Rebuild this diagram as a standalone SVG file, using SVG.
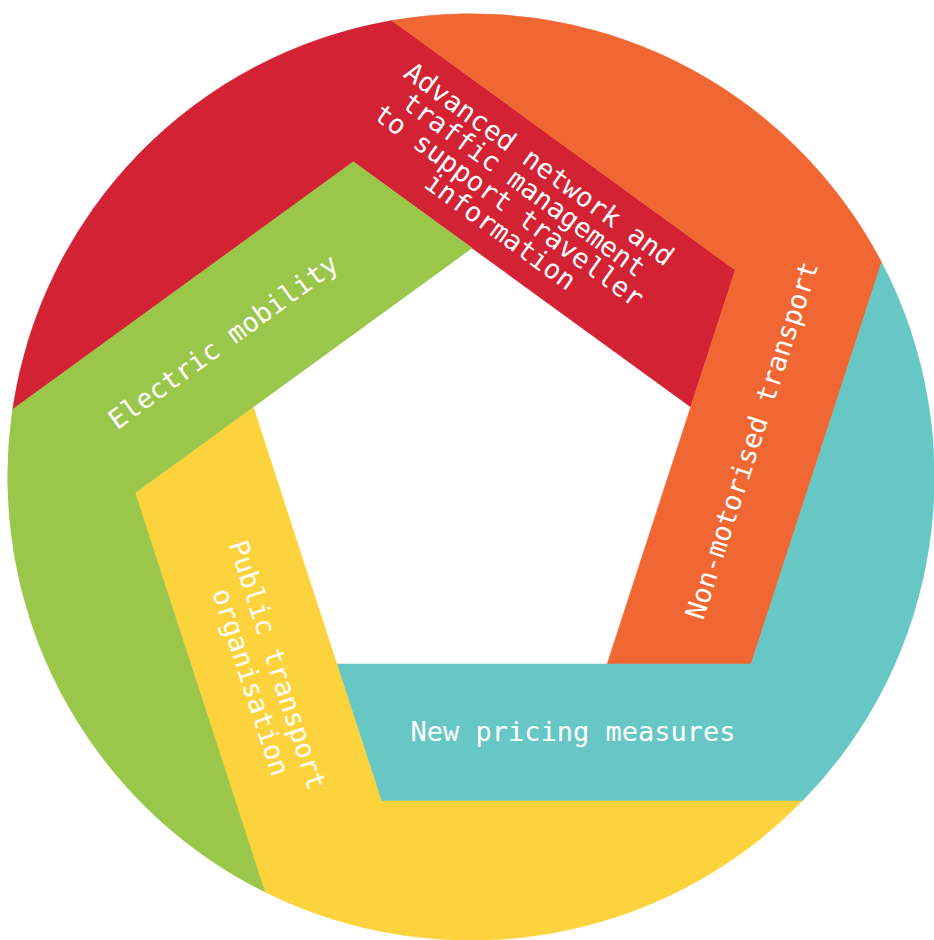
<svg xmlns="http://www.w3.org/2000/svg" width="934" height="940" viewBox="0 0 934 940">
  <style>
    .seg { stroke-width: 0.6; stroke-linejoin: miter; }
    .red { fill: #D32234; stroke: #D32234; }
    .orange { fill: #F16733; stroke: #F16733; }
    .teal { fill: #67C7C5; stroke: #67C7C5; }
    .yellow { fill: #FDD33D; stroke: #FDD33D; }
    .green { fill: #9AC64A; stroke: #9AC64A; }
    .label { font-family: "DejaVu Sans Mono", "Liberation Mono", monospace; font-size: 27px; fill: #FFFFFF; text-anchor: middle; }
  </style>
  <rect width="934" height="940" fill="#FFFFFF"/>

  <!-- Pinwheel of five bands around a central pentagon (centre 472,478), clipped by the outer circle -->
  <g id="advanced-network">
    <path class="seg red" d="M690.74,406.93 L353.39,161.83 L12.66,409.38 A463.3,463.3 0 0 1 391.84,20.51 L735.23,270 Z"/>
    <text class="label" transform="translate(472,478) rotate(36)">
      <tspan x="-122" y="-284.2">Advanced network and</tspan>
      <tspan x="-122" y="-258.5">traffic management</tspan>
      <tspan x="-122" y="-232.8">to support traveller</tspan>
      <tspan x="-122" y="-207">information</tspan>
    </text>
  </g>

  <g id="non-motorised">
    <path class="seg orange" d="M607.19,664.07 L735.23,270 L391.84,20.51 A463.3,463.3 0 0 1 881.65,262.49 L751.16,664.07 Z"/>
    <text class="label" transform="translate(472,478) rotate(-72)" x="122.4" y="263.8">Non-motorised transport</text>
  </g>

  <g id="pricing">
    <path class="seg teal" d="M336.81,664.07 L751.16,664.07 L881.65,262.49 A463.3,463.3 0 0 1 802.17,801 L381.31,801 Z"/>
    <text class="label" x="573" y="741">New pricing measures</text>
  </g>

  <g id="public-transport">
    <path class="seg yellow" d="M253.26,406.93 L381.31,801 L802.17,801 A463.3,463.3 0 0 1 264.75,891.86 L135.08,492.8 Z"/>
    <text class="label" transform="translate(472,478) rotate(72)">
      <tspan x="125.7" y="252.1">Public transport</tspan>
      <tspan x="125.7" y="282.6">organisation</tspan>
    </text>
  </g>

  <g id="electric-mobility">
    <path class="seg green" d="M472,248 L135.08,492.8 L264.75,891.86 A463.3,463.3 0 0 1 12.66,409.38 L353.39,161.83 Z"/>
    <text class="label" transform="translate(472,478) rotate(-36)" x="-121.2" y="-247.2">Electric mobility</text>
  </g>

  <g id="connectors"/>
</svg>
